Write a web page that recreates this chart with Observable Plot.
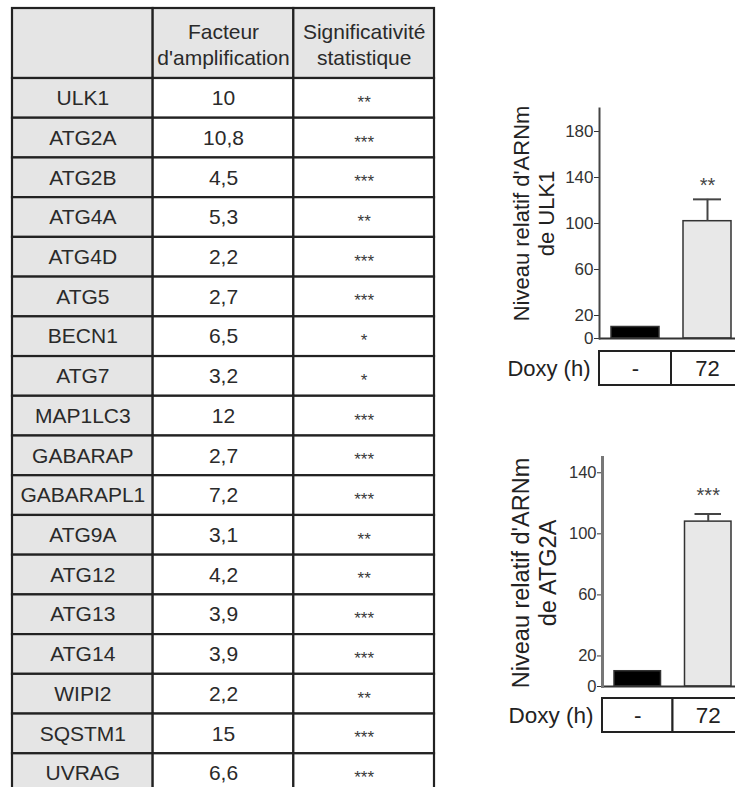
<!DOCTYPE html>
<html><head><meta charset="utf-8">
<script src="https://cdn.jsdelivr.net/npm/d3@7"></script>
<script src="https://cdn.jsdelivr.net/npm/@observablehq/plot@0.6"></script>
<style>
body{margin:0;background:#fff;}
#root{position:relative;width:735px;height:787px;overflow:hidden;background:#fff;}
#root svg{position:absolute;}
</style></head><body><div id="root"></div>
<script>
// ---- Table data ----
const genes = ["ULK1","ATG2A","ATG2B","ATG4A","ATG4D","ATG5","BECN1","ATG7","MAP1LC3","GABARAP","GABARAPL1","ATG9A","ATG12","ATG13","ATG14","WIPI2","SQSTM1","UVRAG"];
const factors = [10, 10.8, 4.5, 5.3, 2.2, 2.7, 6.5, 3.2, 12, 2.7, 7.2, 3.1, 4.2, 3.9, 3.9, 2.2, 15, 6.6];
const significance = ["**","***","***","**","***","***","*","*","***","***","***","**","**","***","***","**","***","***"];
const columns = ["gene","factor","sig"];
const headerLabels = ["", "Facteur\nd'amplification", "Significativité\nstatistique"];

// ---- Bar chart data ----
const conditions = ["-", "72"];
const doxyLabel = "Doxy (h)";
const barFills = ["#000000", "#e8e8e8"];
const ulk1Means = [10, 102];
const ulk1Sem = [0, 19];
const ulk1Sig = ["", "**"];
const ulk1Ticks = [0, 20, 60, 100, 140, 180];
const atg2aMeans = [10, 108];
const atg2aSem = [0, 5];
const atg2aSig = ["", "***"];
const atg2aTicks = [0, 20, 60, 100, 140];

const FONT = "'Liberation Sans', Arial, Helvetica, sans-serif";
const root = document.getElementById("root");
function place(svg, left, top) {
  svg.style.left = left + "px";
  svg.style.top = top + "px";
  root.appendChild(svg);
}
const baseStyle = {fontFamily: FONT, background: "transparent", overflow: "visible"};
const fmt = v => String(v).replace(".", ",");

// ---- Table header ----
const header = columns.map((c, i) => ({col: c, row: "h", text: headerLabels[i]}));
place(Plot.plot({
  width: 440, height: 80, marginLeft: 12, marginRight: 6, marginTop: 8, marginBottom: 2,
  style: baseStyle,
  x: {type: "band", domain: columns, padding: 0, round: false, axis: null},
  y: {type: "band", domain: ["h"], padding: 0, round: false, axis: null},
  marks: [
    Plot.cell(header, {x: "col", y: "row", fill: "#e5e5e5", stroke: "#222", strokeWidth: 2.2}),
    Plot.text(header, {x: "col", y: "row", text: "text", fontSize: 21, lineHeight: 1.24, fill: "#2a2a2a"})
  ]
}), 0, 0);

// ---- Table body ----
const rows = genes.map((g, i) => ({gene: g, factor: fmt(factors[i]), sig: significance[i]}));
const cells = rows.flatMap(r => columns.map(c => ({row: r.gene, col: c, text: r[c]})));
place(Plot.plot({
  width: 440, height: 717, marginLeft: 12, marginRight: 6, marginTop: 0, marginBottom: 2,
  style: baseStyle,
  color: {type: "identity"},
  x: {type: "band", domain: columns, padding: 0, round: false, axis: null},
  y: {type: "band", domain: genes, padding: 0, round: false, axis: null},
  marks: [
    Plot.cell(cells, {x: "col", y: "row", fill: d => d.col === "gene" ? "#e5e5e5" : "#ffffff", stroke: "#222", strokeWidth: 2.2}),
    Plot.text(cells.filter(d => d.col !== "sig"), {x: "col", y: "row", text: "text", fontSize: 21, fill: "#2a2a2a"}),
    Plot.text(cells.filter(d => d.col === "sig"), {x: "col", y: "row", text: "text", fontSize: 17, dy: 4, fill: "#3a3a3a"})
  ]
}), 0, 78);

// ---- Bar charts ----
function barChart(o) {
  const data = conditions.map((c, i) => ({cond: c, mean: o.means[i], sem: o.sem[i], sig: o.sig[i], fill: barFills[i]}));
  const err = data.filter(d => d.sem > 0);
  place(Plot.plot({
    width: 283, height: o.height, marginLeft: o.marginLeft, marginRight: 0, marginTop: o.marginTop, marginBottom: 12,
    style: baseStyle,
    color: {type: "identity"},
    x: {type: "band", domain: conditions, padding: 0, round: false, axis: null},
    y: {domain: [0, o.ymax], axis: null},
    marks: [
      Plot.barY(data, {x: "cond", y: "mean", fill: "fill", stroke: "#333", strokeWidth: 1.5, insetLeft: 12, insetRight: 12}),
      Plot.ruleX(err, {x: "cond", y1: "mean", y2: d => d.mean + d.sem, stroke: "#444", strokeWidth: 2}),
      Plot.tickY(err, {x: "cond", y: d => d.mean + d.sem, stroke: "#444", strokeWidth: 2, insetLeft: 22, insetRight: 22}),
      Plot.text(err, {x: "cond", y: d => d.mean + d.sem, text: "sig", fontSize: 20, dy: o.starDy, fill: "#444"}),
      Plot.ruleY([0], {stroke: "#333", strokeWidth: 2}),
      Plot.axisY({ticks: o.ticks, tickSize: 5, tickPadding: 1, fontSize: o.tickFont, color: "#333", label: null}),
      Plot.frame({anchor: "left", stroke: o.axisColor, strokeWidth: o.axisWidth}),
      Plot.text([o.label], {frameAnchor: "left", textAnchor: "middle", lineAnchor: "middle", rotate: -90, dx: o.labelDx, dy: o.labelDy, fontSize: o.labelFont, lineHeight: 1.15, fill: "#222"})
    ]
  }), 460, o.top);

  const doxy = conditions.map(c => ({cond: c, row: doxyLabel}));
  place(Plot.plot({
    width: 283, height: 34 + 2 * o.doxyPad, marginLeft: o.marginLeft, marginRight: 0, marginTop: o.doxyPad, marginBottom: o.doxyPad,
    style: baseStyle,
    x: {type: "band", domain: conditions, padding: 0, round: false, axis: null},
    y: {type: "band", domain: [doxyLabel], padding: 0, round: false, axis: null},
    marks: [
      Plot.cell(doxy, {x: "cond", y: "row", fill: "#fff", stroke: "#222", strokeWidth: 2}),
      Plot.text(doxy, {x: "cond", y: "row", text: "cond", fontSize: o.doxyFont, fill: "#222"}),
      Plot.axisY({tickSize: 0, tickPadding: 9, fontSize: o.doxyFont, color: "#222", label: null})
    ]
  }), 460, o.doxyTop);
}

barChart({
  means: ulk1Means, sem: ulk1Sem, sig: ulk1Sig, ticks: ulk1Ticks, ymax: 200,
  label: "Niveau relatif d'ARNm\nde ULK1",
  top: 90, height: 260, marginTop: 18, marginLeft: 139,
  starDy: -14, tickFont: 17, labelFont: 22, labelDx: -66, labelDy: -10,
  axisColor: "#444", axisWidth: 2,
  doxyTop: 345, doxyPad: 6, doxyFont: 22
});

barChart({
  means: atg2aMeans, sem: atg2aSem, sig: atg2aSig, ticks: atg2aTicks, ymax: 150,
  label: "Niveau relatif d'ARNm\nde ATG2A",
  top: 440, height: 258, marginTop: 17, marginLeft: 142,
  starDy: -18, tickFont: 16.5, labelFont: 23.5, labelDx: -69, labelDy: 1,
  axisColor: "#777", axisWidth: 3,
  doxyTop: 690, doxyPad: 8, doxyFont: 22.5
});
</script></body></html>
